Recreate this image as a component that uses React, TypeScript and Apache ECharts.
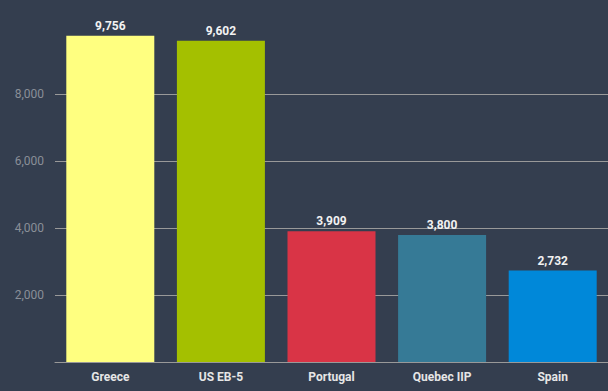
import React, { useEffect, useRef } from "react";
import * as echarts from "echarts";

const categories = ["Greece", "US EB-5", "Portugal", "Quebec IIP", "Spain"];
const values = [9756, 9602, 3909, 3800, 2732];
const barColors = ["#ffff80", "#a4c000", "#d93446", "#367a96", "#0088d9"];

export default function App() {
  const ref = useRef<HTMLDivElement>(null);
  useEffect(() => {
    if (!ref.current) return;
    const chart = echarts.init(ref.current, undefined, { renderer: "svg" });
    const fmt = (v: number) => v.toLocaleString("en-US");
    chart.setOption({
      animation: false,
      backgroundColor: "#343e4f",
      textStyle: { fontFamily: "Roboto" },
      grid: { left: 55, right: 0, top: 27.5, bottom: 29 },
      xAxis: {
        type: "category",
        data: categories,
        axisLine: { lineStyle: { color: "#999", width: 1 } },
        axisTick: { show: false },
        axisLabel: { color: "#e6e6e6", fontSize: 12, fontWeight: "bold", margin: 9 },
      },
      yAxis: {
        type: "value",
        min: 0,
        max: 10000,
        interval: 2000,
        axisLine: { show: false },
        axisTick: { show: false },
        axisLabel: {
          color: "#8a8f98",
          fontSize: 12,
          margin: 11,
          formatter: (v: number) => (v === 0 || v === 10000 ? "" : fmt(v)),
        },
        splitLine: {
          lineStyle: {
            color: ["#999", "#999", "#999", "#999", "#999", "rgba(0,0,0,0)"],
            width: 1,
          },
        },
      },
      series: [
        {
          type: "bar",
          data: values.map((v, i) => ({ value: v, itemStyle: { color: barColors[i] } })),
          barWidth: 88,
          label: {
            show: true,
            position: "top",
            distance: 4,
            color: "#f2f2f2",
            fontSize: 12,
            fontWeight: "bold",
            formatter: (p: any) => fmt(p.value),
          },
        },
      ],
    });
    return () => chart.dispose();
  }, []);
  return <div ref={ref} style={{ width: 608, height: 391, position: "absolute", left: 0, top: 0 }} />;
}
